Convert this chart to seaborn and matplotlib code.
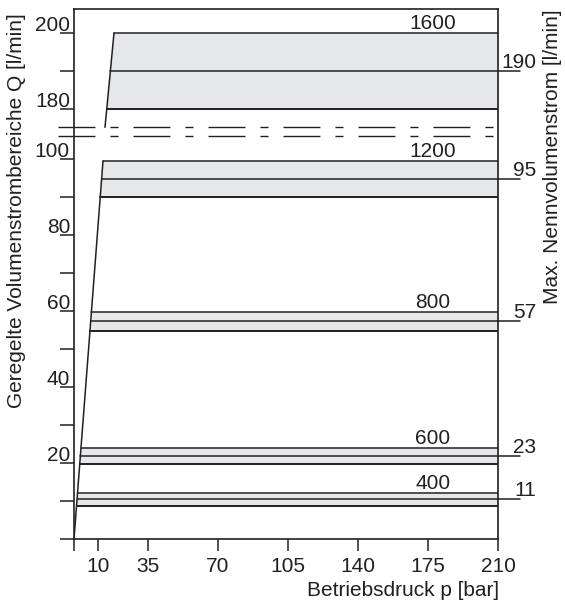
import numpy as np
import matplotlib
matplotlib.use('Agg')
import matplotlib.pyplot as plt
import seaborn as sns

# Baugrößen / Bänder (Q in l/min)
sizes = ['400', '600', '800', '1200', '1600']
nominal = ['11', '23', '57', '95', '190']
q_low = [8.7, 19.7, 54.8, 90.0, 180.0]
q_high = [12.1, 24.0, 59.8, 99.5, 200.0]
q_mid = [10.5, 21.8, 57.3, 94.7, 190.0]

# Anlauf-Linien (p in bar, Q in l/min)
ramp_low_p = [-2.0, 12.5]
ramp_low_q = [0.0, 99.5]
ramp_high_p = [13.5, 18.0]
ramp_high_q = [175.2, 200.0]

p_ticks = [10, 35, 70, 105, 140, 175, 210]
q_ticks = [0, 10, 20, 30, 40, 50, 60, 70, 80, 90, 100, 180, 190, 200]
q_ticklabels = [20, 40, 60, 80, 100, 180, 200]

P_MIN, P_MAX = -2, 210
INK = '#231f20'
FILL = '#e6e7e8'
FS = 15


def qpos(q):
    # gebrochene Achse: oberer Teil (180..200) nach unten geschoben
    q = np.asarray(q, dtype=float)
    return np.where(q > 150, q - 66.84, q)


sns.set_theme(style='ticks')
plt.rcParams['font.family'] = ['Liberation Sans', 'DejaVu Sans']

fig = plt.figure(figsize=(5.65, 6.05), dpi=100)
ax = fig.add_axes([74 / 565, 1 - 539 / 605, 424 / 565, 530 / 605])

for name, nom, lo, hi, mid in zip(sizes, nominal, q_low, q_high, q_mid):
    if lo > 150:
        rp, rq = ramp_high_p, ramp_high_q
    else:
        rp, rq = ramp_low_p, ramp_low_q
    pl_lo = np.interp(lo, rq, rp)
    pl_hi = np.interp(hi, rq, rp)
    pl_mid = np.interp(mid, rq, rp)

    ax.fill_betweenx([float(qpos(lo)), float(qpos(hi))], [pl_lo, pl_hi], P_MAX,
                     color=FILL, lw=0, zorder=1)
    sns.lineplot(x=[pl_lo, P_MAX], y=[float(qpos(lo))] * 2, ax=ax, color=INK, lw=1.4)
    sns.lineplot(x=[pl_hi, P_MAX], y=[float(qpos(hi))] * 2, ax=ax, color=INK, lw=1.1)
    sns.lineplot(x=[pl_mid, 221], y=[float(qpos(mid))] * 2, ax=ax, color=INK, lw=1.1,
                 clip_on=False)

    ax.text(177.5, float(qpos(hi)) + 1.1, name, ha='center', va='baseline', fontsize=FS,
            color=INK)
    ax.text(229, float(qpos(mid)) + 0.8, nom, ha='right', va='baseline', fontsize=FS,
            color=INK, clip_on=False)

sns.lineplot(x=ramp_low_p, y=qpos(ramp_low_q), ax=ax, color=INK, lw=1.1)
sns.lineplot(x=ramp_high_p, y=qpos(ramp_high_q), ax=ax, color=INK, lw=1.1)

# Bruchlinien
for yb in [106.0, 108.4]:
    ax.plot([-10, 215], [yb, yb], color=INK, lw=1.0, dashes=(26.6, 10.8, 5.8, 10.8),
            clip_on=False, zorder=3)

for v in q_ticklabels:
    ax.text(-4, float(qpos(v)) + 0.6, str(v), ha='right', va='baseline', fontsize=FS,
            color=INK, clip_on=False)

ax.set_xlim(P_MIN, P_MAX)
ax.set_ylim(0, 139.5)
ax.set_xticks([P_MIN] + p_ticks, [''] + [str(t) for t in p_ticks])
ax.set_yticks(qpos(q_ticks), [''] * len(q_ticks))
ax.tick_params(axis='x', length=8.6, width=1.1, pad=4.5, labelsize=FS, colors=INK)
ax.tick_params(axis='y', length=10, width=1.1, colors=INK)
for s in ax.spines.values():
    s.set_color(INK)
    s.set_linewidth(1.2)
ax.set_xlabel('')
ax.set_ylabel('')

fig.text(17 / 565, 1 - 211 / 605, 'Geregelte Volumenstrombereiche Q [l/min]', rotation=90,
         ha='center', va='center', fontsize=FS, color=INK)
fig.text(552 / 565, 1 - 157 / 605, 'Max. Nennvolumenstrom [l/min]', rotation=90,
         ha='center', va='center', fontsize=FS, color=INK)
fig.text(499 / 565, 9 / 605, 'Betriebsdruck p [bar]', ha='right', va='baseline',
         fontsize=FS, color=INK)

fig.savefig('out.png', dpi=100)
